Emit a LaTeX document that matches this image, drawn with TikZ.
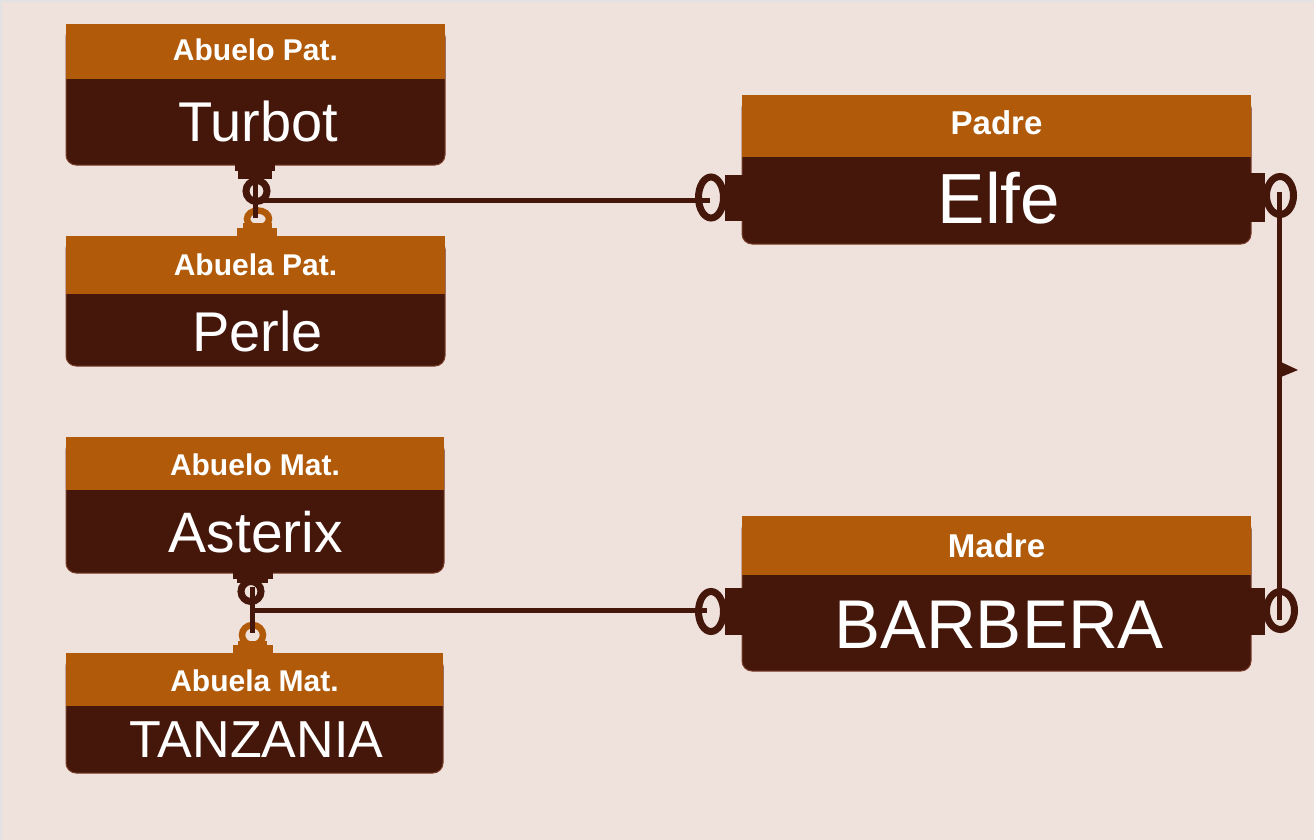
\documentclass[tikz,border=0pt]{standalone}
\usepackage{fontspec}
\setmainfont{Liberation Sans}
\definecolor{bg}{HTML}{EFE1DB}
\definecolor{edge}{HTML}{E2E2E2}
\definecolor{hdr}{HTML}{B05A0A}
\definecolor{bod}{HTML}{45170B}
\definecolor{bodline}{HTML}{7A3F2C}
\begin{document}
\begin{tikzpicture}[x=1pt,y=-1pt,
  hbox/.style={rectangle, fill=hdr, inner sep=0pt, outer sep=0pt, anchor=north west},
  bbox/.style={rectangle, fill=bod, draw=bodline, line width=1pt, rounded corners=10pt, inner sep=0pt, outer sep=0pt, anchor=north west},
  htxt/.style={text=white, font=\bfseries\fontsize{30}{30}\selectfont, anchor=base, inner sep=0pt},
  hbig/.style={text=white, font=\bfseries\fontsize{33}{33}\selectfont, anchor=base, inner sep=0pt},
  btxt/.style={text=white, anchor=base, inner sep=0pt},
  conn/.style={draw=bod, line width=5pt},
  ringd/.style={draw=bod, line width=7pt},
  ringo/.style={draw=hdr, line width=6.5pt},
  ringw/.style={draw=bod, line width=7pt}]
\useasboundingbox (0,0) rectangle (1314,840);
\fill[bg] (0,0) rectangle (1314,840);
\draw[edge, line width=2pt] (1,840) -- (1,1) -- (1314,1);

% ---- entities: body (extends under header), header, texts
% Abuelo Pat.
\node[bbox, minimum width=379pt, minimum height=138pt] (tB) at (66,27) {};
\node[hbox, minimum width=379pt, minimum height=55pt] (tH) at (66,24) {};
\node[htxt] (tHt) at (255.5,61) {Abuelo Pat.};
\node[btxt, font=\fontsize{56}{56}\selectfont] (tBt) at (258,142) {Turbot};
% Abuela Pat.
\node[bbox, minimum width=379pt, minimum height=127pt] (pB) at (66,239) {};
\node[hbox, minimum width=379pt, minimum height=58pt] (pH) at (66,236) {};
\node[htxt] (pHt) at (255.5,275) {Abuela Pat.};
\node[btxt, font=\fontsize{56}{56}\selectfont] (pBt) at (257.5,351) {Perle};
% Abuelo Mat.
\node[bbox, minimum width=378pt, minimum height=133pt] (aB) at (66,440) {};
\node[hbox, minimum width=378pt, minimum height=53pt] (aH) at (66,437) {};
\node[htxt] (aHt) at (255,475) {Abuelo Mat.};
\node[btxt, font=\fontsize{57}{57}\selectfont] (aBt) at (256,552) {Asterix};
% Abuela Mat.
\node[bbox, minimum width=377pt, minimum height=117pt] (zB) at (66,656) {};
\node[hbox, minimum width=377pt, minimum height=53pt] (zH) at (66,653) {};
\node[htxt] (zHt) at (254.5,691) {Abuela Mat.};
\node[btxt, font=\fontsize{52}{52}\selectfont] (zBt) at (256.5,757) {TANZANIA};
% Padre
\node[bbox, minimum width=509pt, minimum height=146pt] (eB) at (742,98) {};
\node[hbox, minimum width=509pt, minimum height=62pt] (eH) at (742,95) {};
\node[hbig] (eHt) at (996.5,135) {Padre};
\node[btxt, font=\fontsize{71}{71}\selectfont] (eBt) at (999,223) {Elfe};
% Madre
\node[bbox, minimum width=509pt, minimum height=152pt] (mB) at (742,519) {};
\node[hbox, minimum width=509pt, minimum height=59pt] (mH) at (742,516) {};
\node[hbig] (mHt) at (996.5,557) {Madre};
\node[btxt, font=\fontsize{69}{69}\selectfont] (mBt) at (999,648) {BARBERA};

% ---- connector end points
\coordinate (tR) at (256.5,191);   % Turbot ring
\coordinate (pR) at (258,219);     % Perle ring
\coordinate (aR) at (251,591.5);   % Asterix ring
\coordinate (zR) at (252.5,635);   % Tanzania ring
\coordinate (eL) at (711,197.5);   % Elfe left ring
\coordinate (eR) at (1280,195.5);  % Elfe right ring
\coordinate (mL) at (711,611.5);   % Madre left ring
\coordinate (mR) at (1280.5,610.5);% Madre right ring
\coordinate (tTop) at (255.5,183);
\coordinate (tBot) at (255.5,218);
\coordinate (tJ) at (255.5,200.5);
\coordinate (aTop) at (252.5,587);
\coordinate (aBot) at (252.5,633);
\coordinate (aJ) at (252.5,610.5);
\coordinate (eLend) at (710,200.5);
\coordinate (mLend) at (707,610.5);
\coordinate (vTop) at (1279.5,192);
\coordinate (vBot) at (1279.5,620);

% ---- tabs
\fill[bod] (235,164) rectangle (275,171);
\fill[bod] (238,171) rectangle (272,179);
\fill[hdr] (243,223) rectangle (272,230);
\fill[hdr] (237,228) rectangle (277,237);
\fill[bod] (233,572) rectangle (273,579);
\fill[bod] (237,579) rectangle (268,583);
\fill[hdr] (238,641) rectangle (267,647);
\fill[hdr] (233,645) rectangle (273,654);
\fill[bod] (725,175) rectangle (743,221);
\fill[bod] (1250,173) rectangle (1265,222);
\fill[bod] (725,588) rectangle (743,635);
\fill[bod] (1250,588) rectangle (1265,635);

% ---- rings
\draw[ringd] (tR) ellipse [x radius=10.5pt, y radius=10.5pt];
\draw[ringo] (pR) ellipse [x radius=11pt, y radius=8.5pt];
\draw[ringd] (aR) ellipse [x radius=10pt, y radius=10pt];
\draw[ringo] (zR) ellipse [x radius=10.5pt, y radius=10pt];
\draw[ringw] (eL) ellipse [x radius=12.5pt, y radius=20.5pt];
\draw[ringw] (eR) ellipse [x radius=13.5pt, y radius=19pt];
\draw[ringw] (mL) ellipse [x radius=12.5pt, y radius=20pt];
\draw[ringw] (mR) ellipse [x radius=14pt, y radius=19pt];

% ---- connectors
\draw[conn] (tTop) -- (tBot);
\draw[conn] (tJ) -- (eLend);
\draw[conn] (aTop) -- (aBot);
\draw[conn] (aJ) -- (mLend);
\draw[conn] (vTop) -- (vBot);
\fill[bod] (1281,362) -- (1298,370) -- (1281,377) -- cycle;
\end{tikzpicture}
\end{document}
